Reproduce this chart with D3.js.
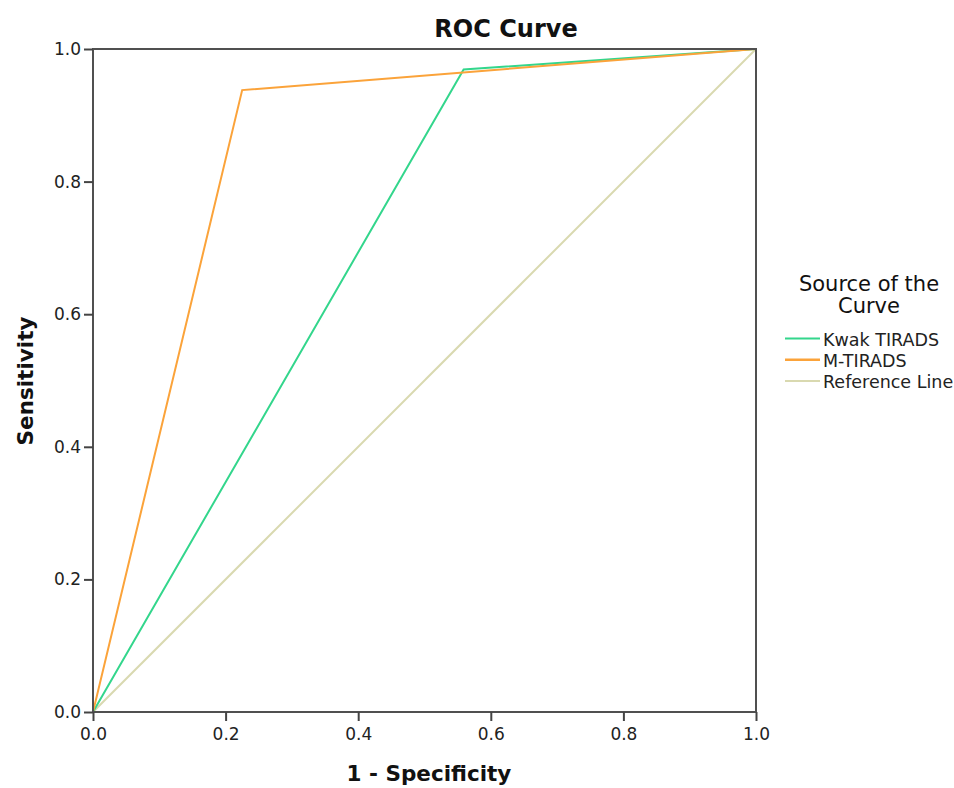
<!DOCTYPE html>
<html><head><meta charset="utf-8">
<script src="https://cdn.jsdelivr.net/npm/d3@7"></script>
<style>body{margin:0;background:#fff}svg{display:block}</style>
</head><body>
<svg id="c" width="954" height="788"></svg>
<script>
const seriesNames = ["Kwak TIRADS", "M-TIRADS", "Reference Line"];
const kwakFPR = [0, 0.559, 1];
const kwakTPR = [0, 0.969, 1];
const mFPR = [0, 0.225, 1];
const mTPR = [0, 0.938, 1];
const refFPR = [0, 1];
const refTPR = [0, 1];
const tickValues = [0, 0.2, 0.4, 0.6, 0.8, 1.0];
const colors = ["#33d68c", "#fba33a", "#d9d9b0"];

const svg = d3.select("#c");
const L = 93, R = 756, T = 49, B = 712;
const x = d3.scaleLinear().domain([0, 1]).range([L, R]);
const y = d3.scaleLinear().domain([0, 1]).range([B, T]);
const font = "'DejaVu Sans', sans-serif";

const series = [
  {name: seriesNames[0], xs: kwakFPR, ys: kwakTPR},
  {name: seriesNames[1], xs: mFPR, ys: mTPR},
  {name: seriesNames[2], xs: refFPR, ys: refTPR}
];
const line = d3.line().x(d => x(d[0])).y(d => y(d[1]));
[2, 0, 1].forEach(i => {
  const s = series[i];
  svg.append("path").datum(s.xs.map((v, j) => [v, s.ys[j]]))
    .attr("d", line).attr("fill", "none").attr("stroke", colors[i]).attr("stroke-width", 2);
});

svg.append("rect").attr("x", L).attr("y", T).attr("width", R - L).attr("height", B - T)
  .attr("fill", "none").attr("stroke", "#505050").attr("stroke-width", 2);

const fmt = d3.format(".1f");
const xAxis = svg.append("g").attr("transform", `translate(0,${B})`)
  .call(d3.axisBottom(x).tickValues(tickValues).tickFormat(fmt).tickSize(9).tickPadding(7));
const yAxis = svg.append("g").attr("transform", `translate(${L},0)`)
  .call(d3.axisLeft(y).tickValues(tickValues).tickFormat(fmt).tickSize(9).tickPadding(3));
[xAxis, yAxis].forEach(a => {
  a.select(".domain").remove();
  a.selectAll(".tick line").attr("stroke", "#444").attr("stroke-width", 2);
  a.selectAll(".tick text").attr("fill", "#222").style("font-family", font).style("font-size", "17px");
});

svg.append("text").attr("x", 506).attr("y", 37).attr("text-anchor", "middle")
  .style("font-family", font).style("font-size", "24px").style("font-weight", "bold").attr("fill", "#111")
  .text("ROC Curve");
svg.append("text").attr("x", 429).attr("y", 781).attr("text-anchor", "middle")
  .style("font-family", font).style("font-size", "21.5px").style("font-weight", "bold").attr("fill", "#111")
  .text("1 - Specificity");
svg.append("text").attr("transform", "translate(33,381) rotate(-90)").attr("text-anchor", "middle")
  .style("font-family", font).style("font-size", "21.5px").style("font-weight", "bold").attr("fill", "#111")
  .text("Sensitivity");

const lg = svg.append("g");
lg.append("text").attr("x", 869).attr("y", 291).attr("text-anchor", "middle")
  .style("font-family", font).style("font-size", "21px").attr("fill", "#111").text("Source of the");
lg.append("text").attr("x", 869).attr("y", 313).attr("text-anchor", "middle")
  .style("font-family", font).style("font-size", "21px").attr("fill", "#111").text("Curve");
seriesNames.forEach((n, i) => {
  const yy = 338.5 + i * 21.2;
  lg.append("line").attr("x1", 785).attr("x2", 820).attr("y1", yy).attr("y2", yy)
    .attr("stroke", colors[i]).attr("stroke-width", i === 1 ? 2.5 : 2);
  lg.append("text").attr("x", 823).attr("y", yy + 7)
    .style("font-family", font).style("font-size", "17.5px").attr("fill", "#222").text(n);
});
</script>
</body></html>
